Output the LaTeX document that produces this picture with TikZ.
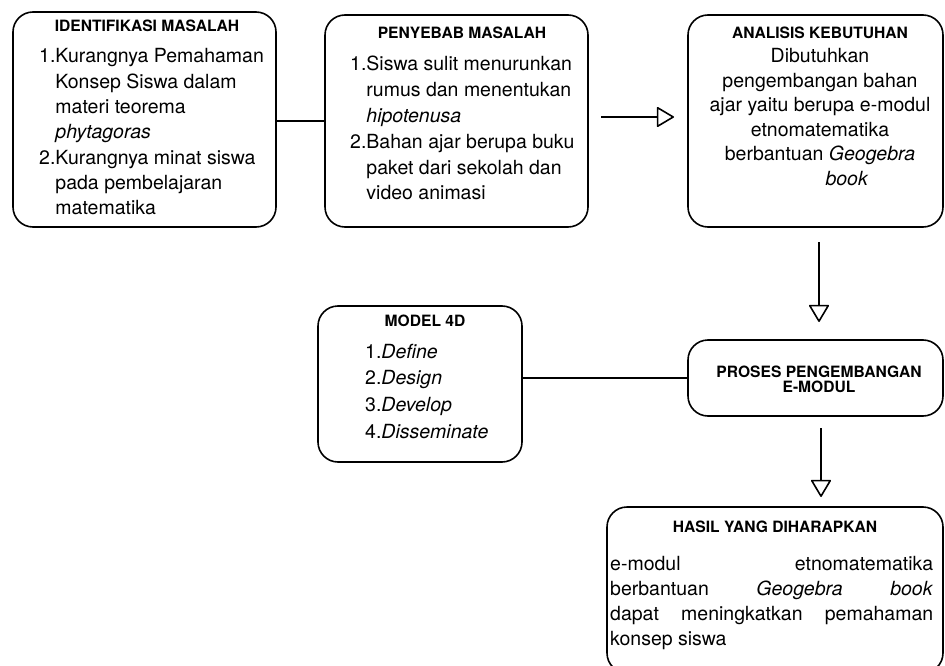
\documentclass[tikz,border=0pt]{standalone}
\usepackage{fontspec}
\setmainfont{TeX Gyre Heros}
\usetikzlibrary{arrows.meta}
\begin{document}
\begin{tikzpicture}[x=1pt,y=-1pt,
  box/.style={draw, line width=1.6pt, rounded corners=20pt, inner sep=0pt},
  ttl/.style={font=\fontsize{15.6}{14}\selectfont\bfseries, inner sep=0pt, anchor=base},
  body/.style={font=\fontsize{19.5}{#1}\selectfont, inner sep=0pt, anchor=base west},
  body/.default=25.5,
  cbody/.style={font=\fontsize{19.5}{#1}\selectfont, inner sep=0pt, anchor=base},
  cbody/.default=24.5,
  conn/.style={line width=1.6pt},
  arr/.style={line width=1.6pt, -{Triangle[open,length=18pt,width=21pt,round]}}
]
\useasboundingbox (0,0) rectangle (945,666);

% boxes
\node[box, minimum width=263pt, minimum height=215pt] (b1) at (144.5,119.5) {};
\node[box, minimum width=263pt, minimum height=212pt] (b2) at (456.5,121) {};
\node[box, minimum width=255pt, minimum height=212pt] (b3) at (815.5,121) {};
\node[box, minimum width=204pt, minimum height=156pt] (b4) at (420,384) {};
\node[box, minimum width=255pt, minimum height=76pt] (b5) at (815.5,378) {};
\node[box, minimum width=336pt, minimum height=166pt] (b6) at (775,590) {};

% texts box 1
\node[ttl] (t1) at (147,32) {IDENTIFIKASI MASALAH};
\node[body=25.3] (l1) at (39,63) {\begin{tabular}[t]{@{}l@{}l@{}}
1.&Kurangnya Pemahaman\\
  &Konsep Siswa dalam\\
  &materi teorema\\
  &\textit{phytagoras}\\
2.&Kurangnya minat siswa\\
  &pada pembelajaran\\
  &matematika
\end{tabular}};

% texts box 2
\node[ttl] (t2) at (462,39) {PENYEBAB MASALAH};
\node[body=25.8] (l2) at (350,71) {\begin{tabular}[t]{@{}l@{}l@{}}
1.&Siswa sulit menurunkan\\
  &rumus dan menentukan\\
  &\textit{hipotenusa}\\
2.&Bahan ajar berupa buku\\
  &paket dari sekolah dan\\
  &video animasi
\end{tabular}};

% texts box 3
\node[ttl] (t3) at (820,39) {ANALISIS KEBUTUHAN};
\node[cbody=24.5] (l3) at (820,63) {\begin{tabular}[t]{@{}c@{}}
Dibutuhkan\\
pengembangan bahan\\
ajar yaitu berupa e-modul\\
etnomatematika\\
berbantuan \textit{Geogebra}\\
\hspace*{54pt}\textit{book}
\end{tabular}};

% texts box 4
\node[ttl] (t4) at (425,326) {MODEL 4D};
\node[body=26.7] (l4) at (365,358) {\begin{tabular}[t]{@{}l@{}l@{}}
1.&\textit{Define}\\
2.&\textit{Design}\\
3.&\textit{Develop}\\
4.&\textit{Disseminate}
\end{tabular}};

% texts box 5
\node[ttl] (t5) at (819,377) {\begin{tabular}[t]{@{}c@{}}PROSES PENGEMBANGAN\\E-MODUL\end{tabular}};

% texts box 6
\node[ttl] (t6) at (775,532) {HASIL YANG DIHARAPKAN};
\node[body=25] (l6) at (610,570) {\parbox[t]{323pt}{%
e-modul\hfill etnomatematika\\
berbantuan\hfill \textit{Geogebra}\hfill \textit{book}\\
dapat\hfill meningkatkan\hfill pemahaman\\
konsep siswa}};

% connectors
\coordinate (a1s) at (601,117);
\coordinate (a1e) at (674,117);
\coordinate (a2s) at (819,242);
\coordinate (a2e) at (819,322);
\coordinate (a3s) at (821,428);
\coordinate (a3e) at (821,497);

\draw[conn] (b1.east |- b2.west) -- (b2.west);
\draw[arr] (a1s) -- (a1e);
\draw[arr] (a2s) -- (a2e);
\draw[conn] (b4.east |- b5.west) -- (b5.west);
\draw[arr] (a3s) -- (a3e);
\end{tikzpicture}
\end{document}
